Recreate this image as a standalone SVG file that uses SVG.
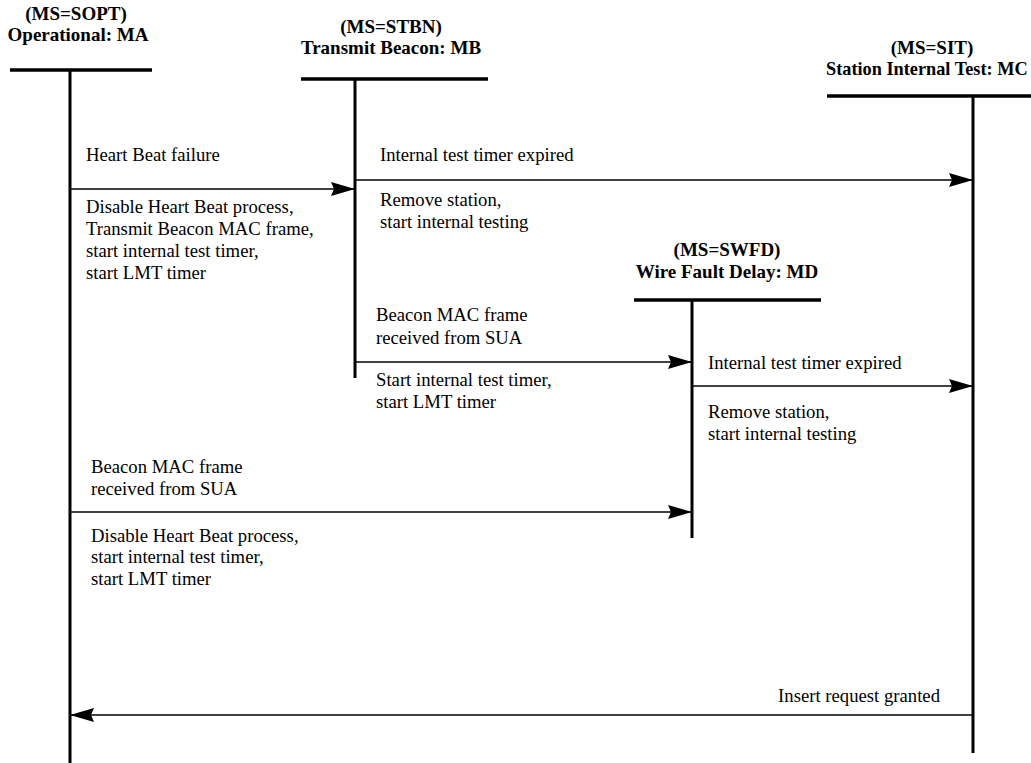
<svg xmlns="http://www.w3.org/2000/svg" width="1031" height="763" viewBox="0 0 1031 763">
  <style>
    .hdr { font-family: "Liberation Serif", "Times New Roman", serif; font-size: 19px; font-weight: bold; fill: #000; text-anchor: middle; }
    .lbl { font-family: "Liberation Serif", "Times New Roman", serif; font-size: 18.7px; fill: #000; }
    .bar { stroke: #000; stroke-width: 3.5; fill: none; }
    .life { stroke: #000; stroke-width: 3; fill: none; }
    .msg { stroke: #000; stroke-width: 1.6; fill: none; marker-end: url(#head); }
  </style>
  <defs>
    <marker id="head" markerUnits="userSpaceOnUse" markerWidth="24" markerHeight="14" refX="24" refY="7" orient="auto">
      <path d="M0,0 L24,7 L0,14 L3,7 Z" fill="#000"/>
    </marker>
  </defs>
  <rect width="1031" height="763" fill="#fff"/>

  <!-- State MA -->
  <g id="state-ma">
    <text class="hdr" x="76" y="20">(MS=SOPT)</text>
    <text class="hdr" x="78" y="41">Operational: MA</text>
    <line class="bar" x1="10" y1="70" x2="152" y2="70"/>
    <line class="life" x1="70" y1="70" x2="70" y2="763"/>
  </g>

  <!-- State MB -->
  <g id="state-mb">
    <text class="hdr" x="391" y="33">(MS=STBN)</text>
    <text class="hdr" x="391" y="54">Transmit Beacon: MB</text>
    <line class="bar" x1="301" y1="79" x2="488" y2="79"/>
    <line class="life" x1="355" y1="79" x2="355" y2="378"/>
  </g>

  <!-- State MC -->
  <g id="state-mc">
    <text class="hdr" x="932" y="54">(MS=SIT)</text>
    <text class="hdr" x="826" y="75" style="text-anchor:start;font-size:18.3px">Station Internal Test: MC</text>
    <line class="bar" x1="827" y1="96" x2="1031" y2="96"/>
    <line class="life" x1="973" y1="96" x2="973" y2="753"/>
  </g>

  <!-- State MD -->
  <g id="state-md">
    <text class="hdr" x="727" y="256">(MS=SWFD)</text>
    <text class="hdr" x="727" y="278">Wire Fault Delay: MD</text>
    <line class="bar" x1="634" y1="300" x2="821" y2="300"/>
    <line class="life" x1="692" y1="300" x2="692" y2="538"/>
  </g>

  <!-- Transitions -->
  <g id="connectors">
    <line class="msg" x1="70" y1="189" x2="355" y2="189"/>
    <line class="msg" x1="355" y1="180" x2="973" y2="180"/>
    <line class="msg" x1="355" y1="362" x2="692" y2="362"/>
    <line class="msg" x1="692" y1="386" x2="973" y2="386"/>
    <line class="msg" x1="70" y1="512" x2="692" y2="512"/>
    <line class="msg" x1="973" y1="715" x2="70" y2="715"/>
  </g>

  <!-- Transition labels -->
  <g id="labels">
    <text class="lbl" x="86" y="161">Heart Beat failure</text>
    <text class="lbl" x="86" y="213">Disable Heart Beat process,</text>
    <text class="lbl" x="86" y="235">Transmit Beacon MAC frame,</text>
    <text class="lbl" x="86" y="257">start internal test timer,</text>
    <text class="lbl" x="86" y="279">start LMT timer</text>

    <text class="lbl" x="380" y="161">Internal test timer expired</text>
    <text class="lbl" x="380" y="206">Remove station,</text>
    <text class="lbl" x="380" y="228">start internal testing</text>

    <text class="lbl" x="376" y="321">Beacon MAC frame</text>
    <text class="lbl" x="376" y="344">received from SUA</text>
    <text class="lbl" x="376" y="386">Start internal test timer,</text>
    <text class="lbl" x="376" y="408">start LMT timer</text>

    <text class="lbl" x="708" y="369">Internal test timer expired</text>
    <text class="lbl" x="708" y="418">Remove station,</text>
    <text class="lbl" x="708" y="440">start internal testing</text>

    <text class="lbl" x="91" y="473">Beacon MAC frame</text>
    <text class="lbl" x="91" y="495">received from SUA</text>
    <text class="lbl" x="91" y="542">Disable Heart Beat process,</text>
    <text class="lbl" x="91" y="563">start internal test timer,</text>
    <text class="lbl" x="91" y="585">start LMT timer</text>

    <text class="lbl" x="940" y="702" text-anchor="end">Insert request granted</text>
  </g>
</svg>
